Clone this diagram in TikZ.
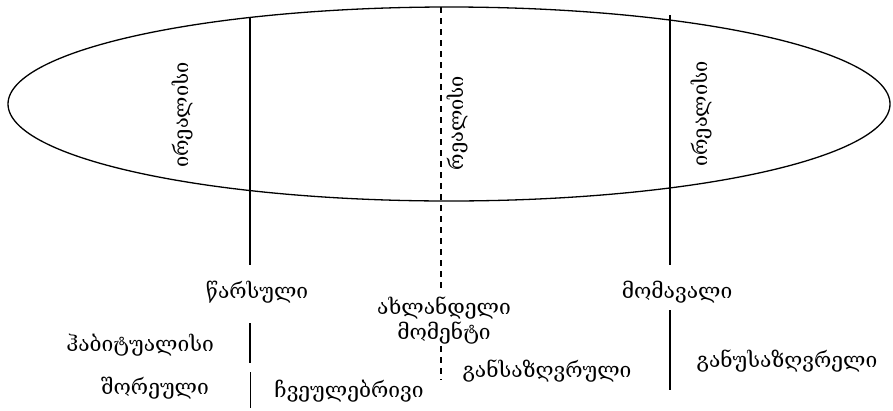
\documentclass[tikz,border=0pt]{standalone}
\usepackage{fontspec}
\setmainfont{DejaVu Serif}
\usetikzlibrary{intersections}
\begin{document}
\begin{tikzpicture}[x=1pt,y=-1pt,
  lbl/.style={inner sep=0pt, font=\fontsize{21}{25}\selectfont, align=center},
  vlbl/.style={inner sep=0pt, font=\fontsize{20}{24}\selectfont, rotate=90},
  solidline/.style={line width=1.2pt},
  dashline/.style={line width=1.1pt, dash pattern=on 6pt off 5pt}]
\useasboundingbox (0,0) rectangle (893,410);
\draw[line width=1.3pt, name path=ell] plot[domain=0:360, samples=241, smooth cycle] ({449+441*cos(\x)},{104+97*sin(\x)});
% rotated labels
\node[vlbl] (irl) at (182,115) {ირეალისი};
\node[vlbl] (rl) at (457,123) {რეალისი};
\node[vlbl] (irr) at (701,114) {ირეალისი};
% bottom labels
\node[lbl] (past) at (257,292) {წარსული};
\node[lbl] (now) at (444,321) {ახლანდელი\\მომენტი};
\node[lbl] (fut) at (677,292) {მომავალი};
\node[lbl] (hab) at (140,345) {ჰაბიტუალისი};
\node[lbl] (far) at (155,388) {შორეული};
\node[lbl] (ord) at (349,391) {ჩვეულებრივი};
\node[lbl] (def) at (547,371) {განსაზღვრული};
\node[lbl] (indef) at (787,361) {განუსაზღვრელი};
% line end coordinates
\coordinate (l1) at (250,17);
\coordinate (d1) at (441,7);
\coordinate (r1) at (670,15);
\coordinate (l2) at (250,265);
\coordinate (l3) at (250,323); \coordinate (l4) at (250,363);
\coordinate (l5) at (250,372); \coordinate (l6) at (250,408);
\coordinate (d2) at (441,290);
\coordinate (d3) at (441,346); \coordinate (d4) at (441,380);
\coordinate (r2) at (670,265);
\coordinate (r3) at (670,310); \coordinate (r4) at (670,390);
\draw[solidline] (l1) -- (l2);
\draw[solidline] (l3) -- (l4);
\draw[line width=0.8pt] (l5) -- (l6);
\draw[dashline] (d1) -- (d2);
\draw[dashline] (d3) -- (d4);
\draw[solidline] (r1) -- (r2);
\draw[solidline] (r3) -- (r4);
\end{tikzpicture}
\end{document}
